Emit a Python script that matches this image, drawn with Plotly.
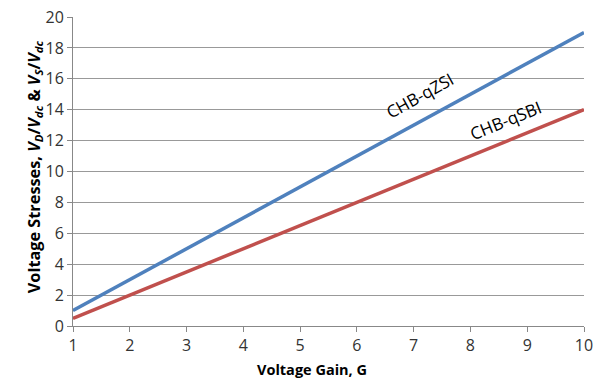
import plotly.graph_objects as go

gain = [1, 2, 3, 4, 5, 6, 7, 8, 9, 10]
qzsi = [1, 3, 5, 7, 9, 11, 13, 15, 17, 19]
qsbi = [0.5, 2, 3.5, 5, 6.5, 8, 9.5, 11, 12.5, 14]
x_ticks = [1, 2, 3, 4, 5, 6, 7, 8, 9, 10]
y_ticks = [0, 2, 4, 6, 8, 10, 12, 14, 16, 18, 20]

font = "Open Sans, Liberation Sans, sans-serif"

fig = go.Figure()
fig.add_trace(go.Scatter(x=gain, y=qzsi, mode="lines", line=dict(color="#4F81BD", width=3.5), name="CHB-qZSI"))
fig.add_trace(go.Scatter(x=gain, y=qsbi, mode="lines", line=dict(color="#C0504D", width=3.5), name="CHB-qSBI"))

fig.add_annotation(x=7.11, y=14.9, text="CHB-qZSI", showarrow=False, textangle=-29,
                   font=dict(family=font, size=17, color="black"))
fig.add_annotation(x=8.61, y=13.3, text="CHB-qSBI", showarrow=False, textangle=-22,
                   font=dict(family=font, size=17, color="black"))

# axis titles
fig.add_annotation(xref="paper", yref="paper", x=0.468, y=-0.178, text="<b>Voltage Gain, G</b>",
                   showarrow=False, font=dict(family=font, size=14.5, color="black"))
fig.add_annotation(xref="paper", yref="paper", x=-0.102, y=0.515,
                   text="<b>Voltage Stresses, <i>V<sub>D</sub></i>/<i>V<sub>dc</sub></i> &amp; <i>V<sub>S</sub></i>/<i>V<sub>dc</sub></i></b>",
                   showarrow=False, textangle=-90, font=dict(family=font, size=16.3, color="black"))

fig.update_layout(
    width=594, height=392,
    margin=dict(l=73, r=10, t=17, b=66),
    paper_bgcolor="white", plot_bgcolor="white",
    showlegend=False,
    font=dict(family=font, size=16, color="#333"),
)
fig.update_xaxes(range=[1, 10], tickvals=x_ticks, showgrid=False,
                 showline=True, linecolor="#888", linewidth=1,
                 ticks="outside", tickcolor="#888", ticklen=5,
                 zeroline=False, automargin=False)
fig.update_yaxes(range=[0, 20], tickvals=y_ticks, showgrid=True, gridcolor="#999", gridwidth=1,
                 showline=True, linecolor="#888", linewidth=1,
                 ticks="outside", tickcolor="#888", ticklen=5,
                 zeroline=False, automargin=False)

fig.write_html("out.html", post_script="document.body.style.margin='0';",
               config={"displayModeBar": False})
